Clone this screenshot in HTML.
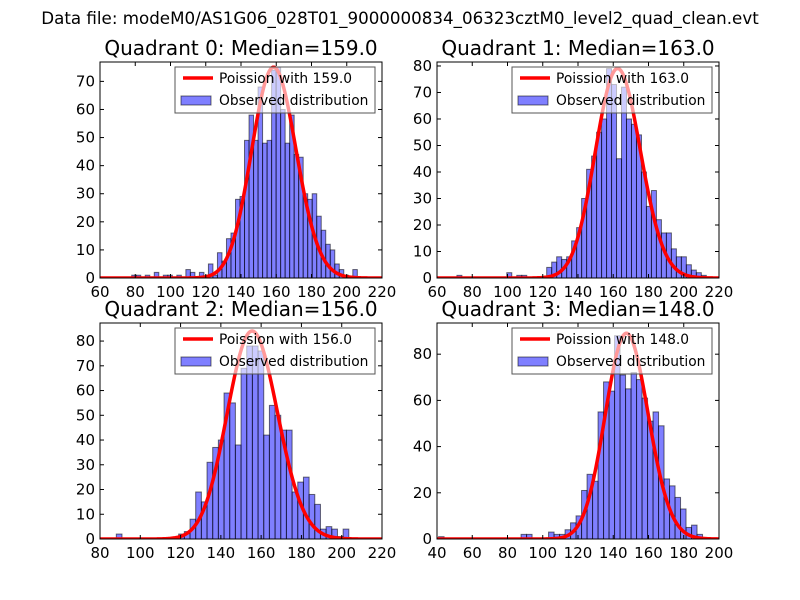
<!DOCTYPE html>
<html><head><meta charset="utf-8"><style>
body{margin:0;background:#fff;}
svg{display:block;font-family:"DejaVu Sans","Liberation Sans",sans-serif;}
</style></head><body>
<svg id="chart" width="800" height="600" viewBox="0 0 800 600" xmlns="http://www.w3.org/2000/svg">
<rect width="800" height="600" fill="#fff"/>
<text x="400" y="24" text-anchor="middle" font-size="16.7">Data file: modeM0/AS1G06_028T01_9000000834_06323cztM0_level2_quad_clean.evt</text>
</svg>
<script>
// ---- data ----
const quadrantNames = ["Quadrant 0", "Quadrant 1", "Quadrant 2", "Quadrant 3"];
const medians = [159.0, 163.0, 156.0, 148.0];
const binStart = [78.0, 71.3, 88.1, 40.9];
const binWidth = [2.56, 2.83, 2.815, 3.12];
const counts0 = [1,1,0,1,0,2,0,1,1,0,1,0,3,2,0,2,0,5,1,9,6,14,16,28,29,49,58,49,68,48,49,74,75,60,48,58,44,43,30,28,30,22,17,12,10,5,3,1,0,3];
const counts1 = [1,0,0,0,0,0,0,0,0,0,2,0,1,1,0,0,0,0,4,6,8,7,8,14,19,30,41,46,55,60,79,73,45,72,60,58,54,40,27,33,22,17,17,11,8,8,5,3,2,1];
const counts2 = [2,0,0,0,0,0,0,0,0,0,0,2,3,8,19,15,31,37,40,59,55,38,69,78,78,76,42,54,50,44,44,19,23,25,18,14,4,5,4,1,4];
const counts3 = [1,0,0,0,0,0,0,0,0,0,0,0,0,0,0,2,2,0,0,0,3,2,2,4,7,10,21,28,25,55,68,64,88,71,65,72,69,61,51,55,49,26,23,18,13,5,6,2];
const curvePeak = [75, 79, 84, 89];
const xDomain = [[60,220],[60,220],[80,220],[40,200]];
const yMax = [76.9, 81.5, 87.3, 93.5];
const xTickLabels = [[60,80,100,120,140,160,180,200,220],[60,80,100,120,140,160,180,200,220],[80,100,120,140,160,180,200,220],[40,60,80,100,120,140,160,180,200]];
const yTickLabels = [[0,10,20,30,40,50,60,70],[0,10,20,30,40,50,60,70,80],[0,10,20,30,40,50,60,70,80],[0,20,40,60,80]];

const allCounts = [counts0, counts1, counts2, counts3];
const boxes = [
  {l:100,r:382,t:62,b:278},{l:437,r:719,t:62,b:278},
  {l:100,r:382,t:323,b:539},{l:437,r:719,t:323,b:539}
];
const NS = "http://www.w3.org/2000/svg";
const svg = document.getElementById('chart');
function mk(tag, attrs, parent){
  const e = document.createElementNS(NS, tag);
  for (const k in attrs) e.setAttribute(k, attrs[k]);
  (parent||svg).appendChild(e);
  return e;
}
function lnGamma(z){
  let s = 0;
  while (z < 8){ s -= Math.log(z); z += 1; }
  return s + (z-0.5)*Math.log(z) - z + 0.5*Math.log(2*Math.PI) + 1/(12*z) - 1/(360*z*z*z);
}
function logPois(k, lam){ return k*Math.log(lam) - lam - lnGamma(k+1); }

for (let q=0;q<4;q++){
  const B = boxes[q];
  const g = mk('g', {});
  
  
  const xs = v => B.l + (v - xDomain[q][0]) / (xDomain[q][1] - xDomain[q][0]) * (B.r - B.l);
  const ys = v => B.b - v / yMax[q] * (B.b - B.t);
  const clipId = 'clip' + q;
  const cp = mk('clipPath', {id: clipId}, g);
  mk('rect', {x:B.l, y:B.t, width:B.r-B.l, height:B.b-B.t}, cp);
  const plot = mk('g', {'clip-path':'url(#'+clipId+')'}, g);
  
  

  const c = allCounts[q];
  for (let i=0;i<c.length;i++){
    if (c[i] <= 0) continue;
    const x0 = xs(binStart[q] + i*binWidth[q]), x1 = xs(binStart[q] + (i+1)*binWidth[q]);
    const r = mk('rect', {x:x0, y:ys(c[i]), width:x1-x0, height:ys(0)-ys(c[i]),
      fill:'#0000ff', 'fill-opacity':0.5, stroke:'#000', 'stroke-opacity':0.55, 'stroke-width':1}, plot);
    
    
  }
  const lam = medians[q];
  const norm = logPois(Math.floor(lam), lam);
  let d = '';
  const steps = 300;
  for (let s=0;s<=steps;s++){
    const v = xDomain[q][0] + s/steps*(xDomain[q][1]-xDomain[q][0]);
    const y = curvePeak[q] * Math.exp(logPois(v, lam) - norm);
    d += (s? 'L':'M') + xs(v).toFixed(2) + ',' + ys(y).toFixed(2);
  }
  const curve = mk('path', {d:d, fill:'none', stroke:'#ff0000', 'stroke-width':3.5, 'stroke-linejoin':'round'}, plot);
  
  

  const fr = mk('rect', {x:B.l, y:B.t, width:B.r-B.l, height:B.b-B.t, fill:'none', stroke:'#000', 'stroke-width':1}, g);
  
  

  for (const t of xTickLabels[q]){
    const x = xs(t);
    mk('line', {x1:x, x2:x, y1:B.b, y2:B.b-4, stroke:'#000'}, g);
    mk('line', {x1:x, x2:x, y1:B.t, y2:B.t+4, stroke:'#000'}, g);
    const tx = mk('text', {x:x, y:B.b+19, 'text-anchor':'middle', 'font-size':15}, g);
    tx.textContent = t;
    
    
  }
  for (const t of yTickLabels[q]){
    const y = ys(t);
    mk('line', {x1:B.l, x2:B.l+4, y1:y, y2:y, stroke:'#000'}, g);
    mk('line', {x1:B.r, x2:B.r-4, y1:y, y2:y, stroke:'#000'}, g);
    const ty = mk('text', {x:B.l-5, y:y+5, 'text-anchor':'end', 'font-size':15}, g);
    ty.textContent = t;
    
    
  }
  const tt = mk('text', {x:(B.l+B.r)/2, y:B.t-7, 'text-anchor':'middle', 'font-size':20}, g);
  tt.textContent = quadrantNames[q] + ': Median=' + medians[q].toFixed(1);
  
  

  const lg = mk('g', {}, g);
  
  
  const lx = B.r - 207, ly = B.t + 5;
  mk('rect', {x:lx, y:ly, width:200, height:46, fill:'#fff', 'fill-opacity':0.6, stroke:'#555', 'stroke-width':1}, lg);
  mk('line', {x1:lx+8, x2:lx+38, y1:ly+11, y2:ly+11, stroke:'#ff0000', 'stroke-width':3.5}, lg);
  const t1 = mk('text', {x:lx+44, y:ly+16, 'font-size':13.8}, lg);
  t1.textContent = 'Poission with ' + medians[q].toFixed(1);
  
  
  mk('rect', {x:lx+6, y:ly+29, width:30, height:9, fill:'#0000ff', 'fill-opacity':0.5, stroke:'#000', 'stroke-opacity':0.55}, lg);
  const t2 = mk('text', {x:lx+44, y:ly+38, 'font-size':13.8}, lg);
  t2.textContent = 'Observed distribution';
  
  
}
</script>
</body></html>
